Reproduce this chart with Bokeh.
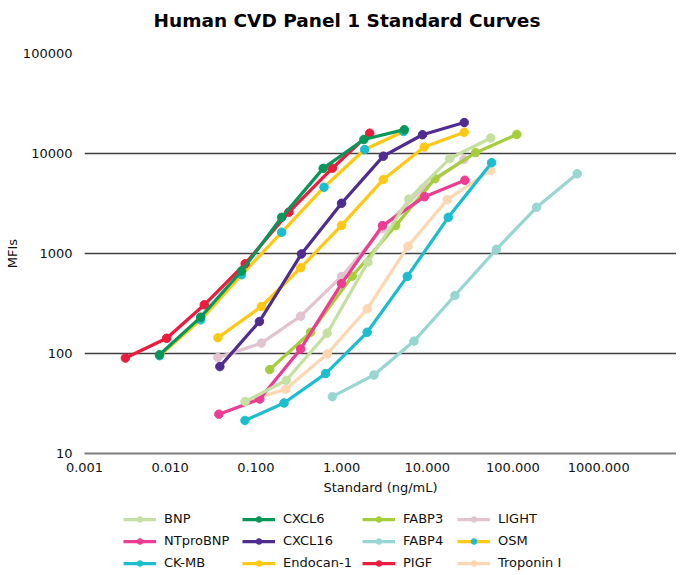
from bokeh.plotting import figure
from bokeh.models import FixedTicker, Legend, LegendItem, Title
from bokeh.layouts import column
from bokeh.embed import file_html
from bokeh.resources import INLINE

FONT = "DejaVu Sans"

# ---- data ----
bnp_x = [0.075, 0.226, 0.68, 2.03, 6.1, 18.3, 55]
bnp_y = [33, 54, 160, 820, 3500, 8900, 14300]

ntprobnp_x = [0.037, 0.111, 0.333, 1.0, 3.0, 9.3, 27.5]
ntprobnp_y = [24.7, 35, 111, 500, 1900, 3700, 5400]

ckmb_x = [0.0746, 0.213, 0.652, 1.99, 5.85, 17.6, 56.4]
ckmb_y = [21.4, 32, 63, 163, 590, 2300, 8100]

cxcl6_x = [0.0075, 0.0227, 0.068, 0.2, 0.61, 1.82, 5.4]
cxcl6_y = [97, 231, 668, 2300, 7100, 13800, 17300]

cxcl16_x = [0.038, 0.11, 0.34, 1.0, 3.07, 8.8, 27]
cxcl16_y = [74, 209, 990, 3180, 9400, 15400, 20400]

endocan_x = [0.036, 0.116, 0.333, 1.0, 3.07, 9.2, 27]
endocan_y = [144, 295, 720, 1910, 5500, 11600, 16300]

fabp3_x = [0.145, 0.435, 1.33, 4.28, 12.3, 36.7, 111]
fabp3_y = [69, 163, 593, 1900, 5600, 10200, 15500]

fabp4_x = [0.78, 2.39, 7.0, 21, 64, 189, 563]
fabp4_y = [37, 61, 133, 380, 1100, 2900, 6270]

pigf_x = [0.003, 0.0091, 0.025, 0.075, 0.243, 0.78, 2.13]
pigf_y = [90, 142, 307, 790, 2590, 7130, 15960]

light_x = [0.036, 0.116, 0.333, 1.0, 3.0, 9.0, 26.8]
light_y = [91, 127, 236, 589, 1780, 4500, 8700]

osm_x = [0.0075, 0.0227, 0.068, 0.2, 0.624, 1.86, 5.3]
osm_y = [95, 217, 612, 1630, 4600, 10960, 16600]

troponin_x = [0.075, 0.223, 0.68, 1.99, 5.96, 17.1, 54.9]
troponin_y = [33, 44, 99, 280, 1180, 3450, 6760]

series_names = ["BNP", "NTproBNP", "CK-MB", "CXCL6", "CXCL16", "Endocan-1",
                "FABP3", "FABP4", "PIGF", "LIGHT", "OSM", "Troponin I"]
series_x = [bnp_x, ntprobnp_x, ckmb_x, cxcl6_x, cxcl16_x, endocan_x,
            fabp3_x, fabp4_x, pigf_x, light_x, osm_x, troponin_x]
series_y = [bnp_y, ntprobnp_y, ckmb_y, cxcl6_y, cxcl16_y, endocan_y,
            fabp3_y, fabp4_y, pigf_y, light_y, osm_y, troponin_y]
line_colors = ["#C6E0A4", "#EC3D93", "#1CBDCF", "#07965A", "#4F2C8F", "#FFC814",
               "#A6CE3C", "#98D6D2", "#EC1C3F", "#E2C4D0", "#FFC814", "#FDD7B2"]
marker_colors = ["#C6E0A4", "#EC3D93", "#1CBDCF", "#07965A", "#4F2C8F", "#FFC814",
                 "#A6CE3C", "#98D6D2", "#EC1C3F", "#E2C4D0", "#1CBDCF", "#FDD7B2"]

x_tick_values = [0.001, 0.01, 0.1, 1, 10, 100, 1000]
x_tick_labels = ["0.001", "0.010", "0.100", "1.000", "10.000", "100.000", "1000.000"]
y_tick_values = [10, 100, 1000, 10000, 100000]
y_tick_labels = ["10", "100", "1000", "10000", "100000"]

# ---------------- main chart ----------------
p = figure(width=676, height=500, x_axis_type="log", y_axis_type="log",
           x_range=(0.001, 8100), y_range=(10, 100000),
           output_backend="svg", toolbar_location=None,
           min_border_left=84, min_border_right=0, min_border_top=53,
           min_border_bottom=47)
p.outline_line_color = None
p.background_fill_color = "white"

# spacer (closest to the frame) and then the title above it
p.add_layout(Title(text=" ", text_font_size="14px", standoff=0), "above")
p.add_layout(Title(text="Human CVD Panel 1 Standard Curves", align="left", offset=69,
                   text_font=FONT, text_font_size="18.5px", text_font_style="bold",
                   text_color="#000000", standoff=10), "above")

xa = p.xaxis[0]
xa.ticker = FixedTicker(ticks=x_tick_values, minor_ticks=[])
xa.major_label_overrides = dict(zip(x_tick_values, x_tick_labels))
xa.axis_line_color = "#7f7f7f"
xa.axis_line_width = 2
xa.major_tick_line_color = None
xa.minor_tick_line_color = None
xa.major_label_standoff = 3
xa.major_label_text_font = FONT
xa.major_label_text_font_size = "13px"
xa.major_label_text_color = "#111111"
xa.axis_label = "Standard (ng/mL)"
xa.axis_label_standoff = 5
xa.axis_label_text_font = FONT
xa.axis_label_text_font_size = "13px"
xa.axis_label_text_font_style = "normal"
xa.axis_label_text_color = "#111111"

ya = p.yaxis[0]
ya.ticker = FixedTicker(ticks=y_tick_values, minor_ticks=[])
ya.major_label_overrides = dict(zip(y_tick_values, y_tick_labels))
ya.axis_line_color = None
ya.major_tick_line_color = None
ya.minor_tick_line_color = None
ya.major_label_standoff = 6
ya.major_label_text_font = FONT
ya.major_label_text_font_size = "13px"
ya.major_label_text_color = "#111111"
ya.axis_label = "MFIs"
ya.axis_label_standoff = 0
ya.axis_label_text_font = FONT
ya.axis_label_text_font_size = "13px"
ya.axis_label_text_font_style = "normal"
ya.axis_label_text_color = "#111111"

p.xgrid.visible = False
p.ygrid.grid_line_color = "#404040"
p.ygrid.grid_line_width = 1.3

order = list(range(len(series_names)))[::-1]
for i in order:
    p.line(series_x[i], series_y[i], line_color=line_colors[i], line_width=3.25)
    p.scatter(series_x[i], series_y[i], size=8.5, fill_color=marker_colors[i],
              line_color=marker_colors[i])

# ---------------- legend strip below the chart ----------------
# (its frame is aligned with the chart frame by the column layout; the series
#  glyphs here lie outside its visible range and only feed the legend swatches)
leg = figure(width=676, height=70, output_backend="svg", toolbar_location=None,
             x_range=(0, 1), y_range=(0, 1),
             x_axis_location=None, y_axis_location=None,
             min_border_left=0, min_border_right=0, min_border_top=0,
             min_border_bottom=0)
leg.outline_line_color = None
leg.xgrid.visible = False
leg.ygrid.visible = False

items = {}
for i in range(len(series_names)):
    rl = leg.line(series_x[i], series_y[i], line_color=line_colors[i], line_width=3.25)
    rs = leg.scatter(series_x[i], series_y[i], size=8.5, fill_color=marker_colors[i],
                     line_color=marker_colors[i])
    items[i] = LegendItem(label=series_names[i], renderers=[rl, rs])

legend_cols = [[0, 1, 2], [3, 4, 5], [6, 7, 8], [9, 10, 11]]
col_left = [39, 158, 278, 373]
for col, cx in zip(legend_cols, col_left):
    lg = Legend(items=[items[i] for i in col], orientation="vertical",
                location=(cx, 0),
                glyph_width=33, glyph_height=14, label_standoff=8, spacing=7,
                padding=0, margin=0, border_line_color=None,
                background_fill_alpha=0,
                label_text_font=FONT, label_text_font_size="13px",
                label_text_color="#111111")
    leg.add_layout(lg, "center")

open("out.html", "w").write(file_html(column(p, leg, spacing=0), INLINE))
